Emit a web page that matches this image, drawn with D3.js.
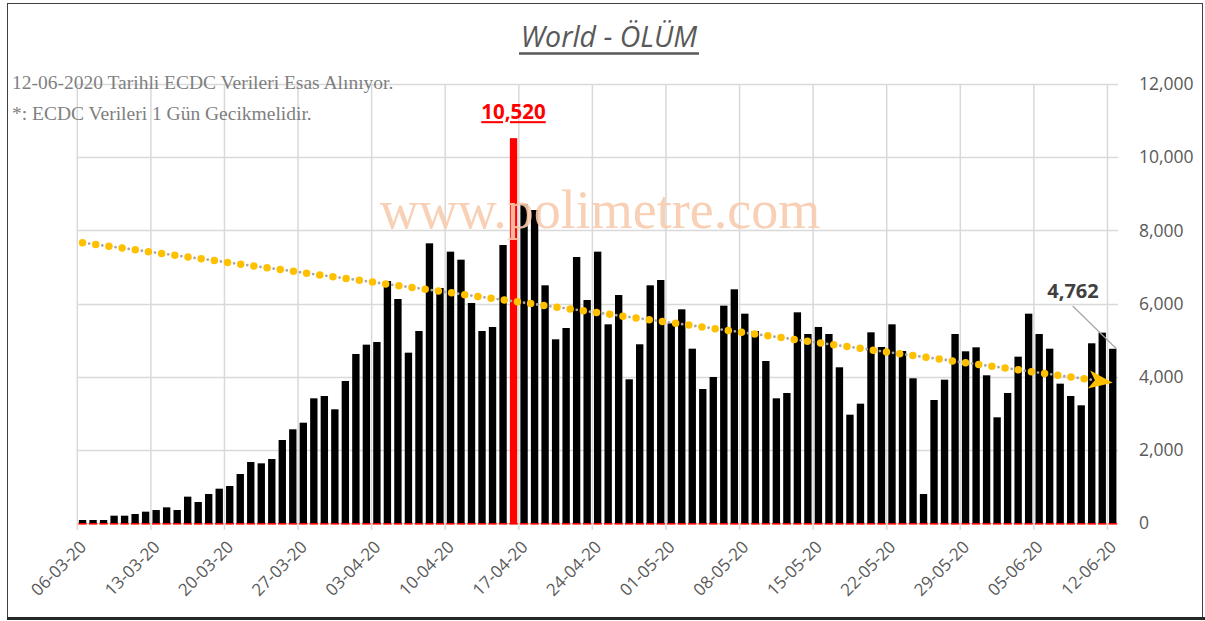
<!DOCTYPE html>
<html>
<head>
<meta charset="utf-8">
<script src="https://cdn.jsdelivr.net/npm/d3@7"></script>
<style>
  body { margin: 0; background: #fff; }
  svg { display: block; }
</style>
</head>
<body>
<svg id="chart" width="1205" height="621"></svg>
<script>
// daily deaths, 06-03-20 .. 12-06-20
var startDay = "2020-03-06",
	endDay = "2020-06-12";

var deaths = [
	82, 82, 82, 200, 200, 246, 310, 355, 428, 355, 720, 574, 793, 938, 1011, 1339,
	1667, 1631, 1749, 2269, 2561, 2742, 3408, 3471, 3108, 3882,
	4620, 4875, 4948, 6615, 6123, 4656, 5248, 7645, 6424, 7417, 7198, 6014, 5248,
	5358, 7599, 10520, 8720, 8556, 6497, 5021, 5330, 7271, 6096, 7417, 5431, 6232,
	3927, 4885, 6497, 6642, 5458, 5841, 4765, 3663, 3991, 5941, 6388, 5722, 5248,
	4428, 3408, 3554, 5759, 5166, 5358, 5166, 4256, 2961, 3262, 5212, 4811, 5431,
	4702, 3955, 793, 3362, 3918, 5166, 4693, 4802, 4037, 2889, 3554, 4547, 5722,
	5166, 4765, 3809, 3471, 3217, 4912, 5203, 4762
];

var tickLabels = ["06-03-20", "13-03-20", "20-03-20", "27-03-20", "03-04-20", "10-04-20",
	"17-04-20", "24-04-20", "01-05-20", "08-05-20", "15-05-20", "22-05-20", "29-05-20",
	"05-06-20", "12-06-20"];

var yTicks = [0, 2000, 4000, 6000, 8000, 10000, 12000];

// linear trend (start / end values)
var trendValues = [7662, 3835];

var peakLabel = "10,520",
	lastLabel = "4,762",
	titleText = "World - ÖLÜM",
	notes = ["12-06-2020 Tarihli ECDC Verileri Esas Alınıyor.", "*: ECDC Verileri 1 Gün Gecikmelidir."],
	watermark = "www.polimetre.com";

var fmtDay = d3.timeFormat("%d-%m-%y"),
	parse = d3.timeParse("%Y-%m-%d");

var days = d3.timeDay.range(parse(startDay), d3.timeDay.offset(parse(endDay), 1));
var data = days.map(function (d, i) { return { day: d, label: fmtDay(d), v: deaths[i] }; });

var svg = d3.select("#chart");

var plotLeft = 77.3, plotRight = 1118, plotTop = 84, plotBottom = 523;

var xscale = d3.scaleBand()
	.domain(data.map(function (d) { return d.label; }))
	.range([plotLeft, plotRight])
	.paddingInner(0.3)
	.paddingOuter(0.15);

var step = xscale.step();
function bandStart(label) { return xscale(label) - step * 0.15; }

var yscale = d3.scaleLinear()
	.domain([0, 12000])
	.range([plotBottom, plotTop]);

// frame
svg.append("rect")
	.attr("x", 7.5).attr("y", 3.5)
	.attr("width", 1195).attr("height", 614)
	.attr("fill", "none")
	.attr("stroke", "#404040")
	.attr("stroke-width", 1);
svg.append("line")
	.attr("x1", 7).attr("x2", 1205)
	.attr("y1", 618.5).attr("y2", 618.5)
	.attr("stroke", "#262626")
	.attr("stroke-width", 3);

// horizontal grid
svg.append("g").selectAll("line")
	.data(yTicks)
	.enter().append("line")
	.attr("x1", plotLeft).attr("x2", plotRight)
	.attr("y1", function (d) { return Math.round(yscale(d)) + 0.5; })
	.attr("y2", function (d) { return Math.round(yscale(d)) + 0.5; })
	.attr("stroke", "#d9d9d9")
	.attr("stroke-width", 1.5);

// vertical grid at weekly ticks
svg.append("g").selectAll("line")
	.data(tickLabels)
	.enter().append("line")
	.attr("x1", function (d) { return bandStart(d); })
	.attr("x2", function (d) { return bandStart(d); })
	.attr("y1", plotTop).attr("y2", plotBottom + 7)
	.attr("stroke", "#d9d9d9")
	.attr("stroke-width", 1.5);

// notes
svg.append("g").selectAll("text")
	.data(notes)
	.enter().append("text")
	.attr("x", 12)
	.attr("y", function (d, i) { return 89 + i * 31; })
	.attr("font-family", "'Liberation Serif', 'Times New Roman', serif")
	.attr("font-size", 19.5)
	.attr("fill", "#7f7f7f")
	.text(function (d) { return d; });

// bars
var bars = svg.append("g");
bars.selectAll("rect.bar")
	.data(data)
	.enter().append("rect")
	.attr("class", "bar")
	.attr("x", function (d) { return xscale(d.label); })
	.attr("width", xscale.bandwidth())
	.attr("y", function (d) { return yscale(d.v); })
	.attr("height", function (d) { return plotBottom - yscale(d.v); })
	.attr("fill", function (d) { return d.v === d3.max(deaths) ? "#ff0000" : "#000"; });

// red base strip under bars
bars.selectAll("rect.base")
	.data(data)
	.enter().append("rect")
	.attr("class", "base")
	.attr("x", function (d) { return xscale(d.label) - 0.5; })
	.attr("width", xscale.bandwidth() + 1)
	.attr("y", plotBottom)
	.attr("height", 1.6)
	.attr("fill", "#ff0000");

// trend line
var t0 = data[0], t1 = data[data.length - 1];
var tx0 = xscale(t0.label) + xscale.bandwidth() / 2,
	tx1 = xscale(t1.label) + xscale.bandwidth() / 2,
	ty0 = yscale(trendValues[0]),
	ty1 = yscale(trendValues[1]);
var ang = Math.atan2(ty1 - ty0, tx1 - tx0),
	headLen = 20, headW = 9;
var bx = tx1 - headLen * Math.cos(ang),
	by = ty1 - headLen * Math.sin(ang);

svg.append("line")
	.attr("x1", tx0).attr("y1", ty0)
	.attr("x2", bx).attr("y2", by)
	.attr("stroke", "#a6a6a6")
	.attr("stroke-width", 2.8)
	.attr("stroke-linecap", "round")
	.attr("stroke-dasharray", "0 6.65");
svg.append("line")
	.attr("x1", tx0).attr("y1", ty0)
	.attr("x2", bx).attr("y2", by)
	.attr("stroke", "#ffc000")
	.attr("stroke-width", 7.5)
	.attr("stroke-linecap", "round")
	.attr("stroke-dasharray", "0 13.3");
svg.append("path")
	.attr("d", d3.line()([
		[tx1, ty1],
		[bx - 4 * Math.cos(ang) + headW * Math.sin(ang), by - 4 * Math.sin(ang) - headW * Math.cos(ang)],
		[bx + 2 * Math.cos(ang), by + 2 * Math.sin(ang)],
		[bx - 4 * Math.cos(ang) - headW * Math.sin(ang), by - 4 * Math.sin(ang) + headW * Math.cos(ang)]
	]) + "Z")
	.attr("fill", "#ffc000");

// y axis labels (right)
svg.append("g").selectAll("text")
	.data(yTicks)
	.enter().append("text")
	.attr("x", 1139)
	.attr("y", function (d) { return yscale(d); })
	.attr("dy", "0.36em")
	.attr("font-family", "'Open Sans', sans-serif")
	.attr("font-size", 17.5)
	.attr("fill", "#595959")
	.text(function (d) { return d3.format(",")(d); });

// x axis labels
svg.append("g").selectAll("text")
	.data(tickLabels)
	.enter().append("text")
	.attr("transform", function (d) { return "translate(" + (bandStart(d) + 10) + ",548) rotate(-45)"; })
	.attr("text-anchor", "end")
	.attr("font-family", "'Open Sans', sans-serif")
	.attr("font-size", 17)
	.attr("fill", "#595959")
	.text(function (d) { return d; });

// peak label
var peak = data.filter(function (d) { return d.v === d3.max(deaths); })[0];
svg.append("text")
	.attr("x", xscale(peak.label) + xscale.bandwidth() / 2)
	.attr("y", yscale(peak.v) - 19)
	.attr("text-anchor", "middle")
	.attr("font-family", "'Open Sans', sans-serif")
	.attr("font-weight", "bold")
	.attr("font-size", 20.5)
	.attr("fill", "#ff0000")
	.attr("text-decoration", "underline")
	.text(peakLabel);

// last value label with leader
svg.append("line")
	.attr("x1", 1072.7).attr("y1", 306)
	.attr("x2", xscale(t1.label) + xscale.bandwidth())
	.attr("y2", yscale(t1.v))
	.attr("stroke", "#a6a6a6")
	.attr("stroke-width", 1.2);
svg.append("text")
	.attr("x", 1073)
	.attr("y", 298)
	.attr("text-anchor", "middle")
	.attr("font-family", "'Open Sans', sans-serif")
	.attr("font-weight", "bold")
	.attr("font-size", 20)
	.attr("fill", "#404040")
	.text(lastLabel);

// title
svg.append("text")
	.attr("x", 609)
	.attr("y", 47)
	.attr("text-anchor", "middle")
	.attr("font-family", "'Open Sans', sans-serif")
	.attr("font-style", "italic")
	.attr("font-size", 28.5)
	.attr("fill", "#595959")
	.text(titleText);
svg.append("line")
	.attr("x1", 519).attr("x2", 699)
	.attr("y1", 53.5).attr("y2", 53.5)
	.attr("stroke", "#595959")
	.attr("stroke-width", 2.5);

// watermark
svg.append("text")
	.attr("x", 600)
	.attr("y", 228)
	.attr("text-anchor", "middle")
	.attr("font-family", "'Liberation Serif', 'Times New Roman', serif")
	.attr("font-size", 54)
	.attr("fill", "#f8cbad")
	.attr("opacity", 0.9)
	.text(watermark);
</script>
</body>
</html>
